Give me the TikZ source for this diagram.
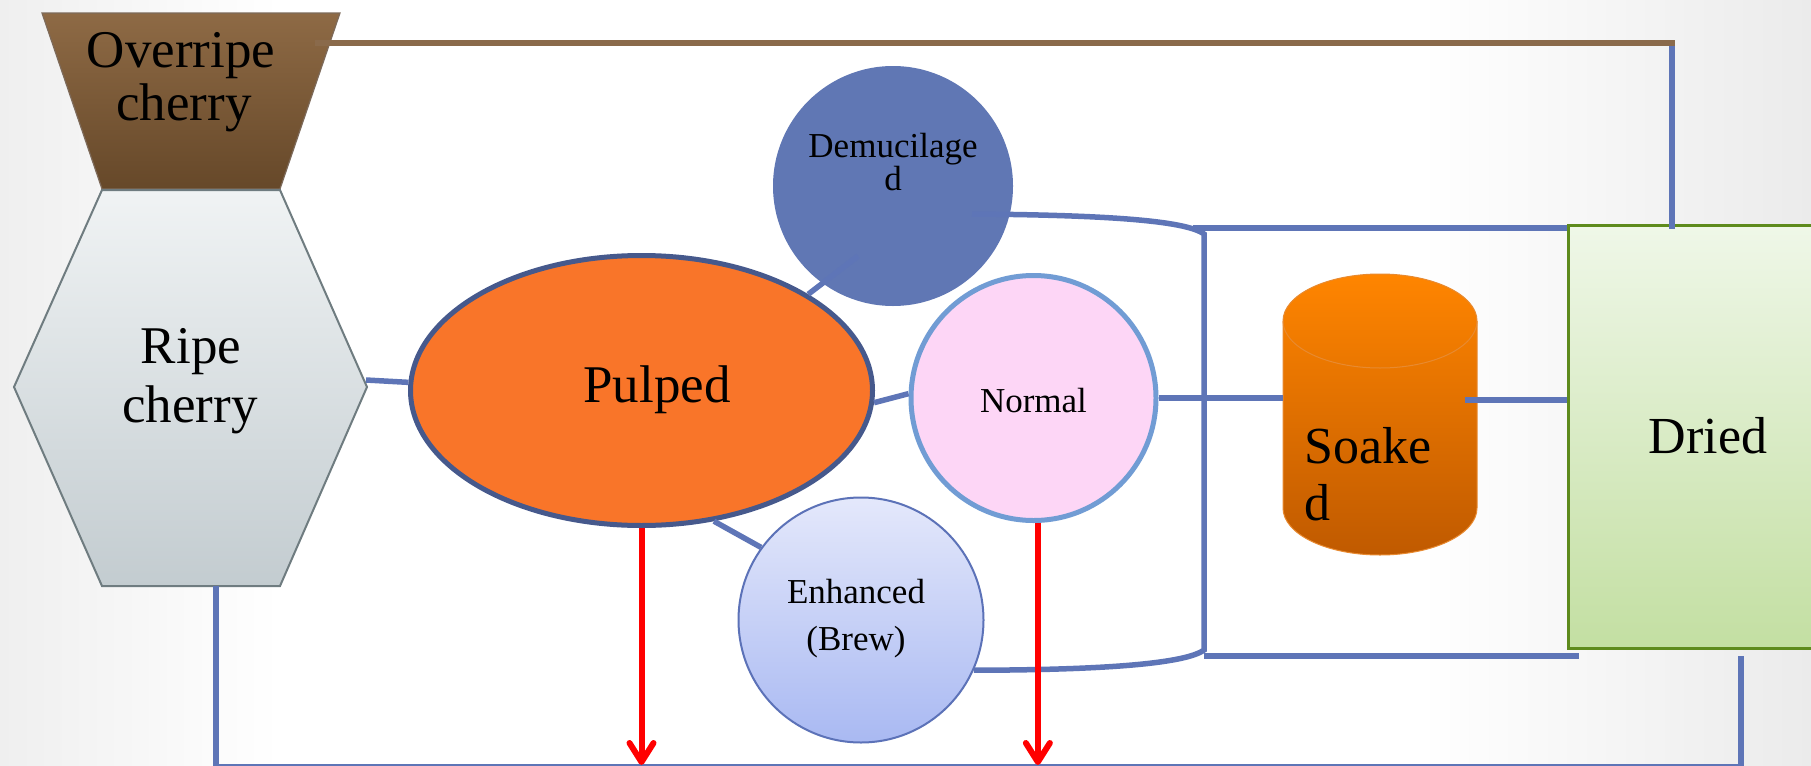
\documentclass[tikz,border=0pt]{standalone}
\usepackage{fontspec}
\setmainfont{Liberation Serif}
\usetikzlibrary{arrows.meta,calc,shapes.geometric}
\definecolor{cBlue}{HTML}{5E75B7}
\definecolor{cBrown}{HTML}{8A6A4B}
\definecolor{brTop}{HTML}{8E6A45}
\definecolor{brBot}{HTML}{664829}
\definecolor{brEdge}{HTML}{7D6A5A}
\definecolor{hxTop}{HTML}{F0F3F4}
\definecolor{hxBot}{HTML}{C3CCD0}
\definecolor{hxEdge}{HTML}{6F7C80}
\definecolor{pulpFill}{HTML}{F97529}
\definecolor{pulpEdge}{HTML}{46598C}
\definecolor{demFill}{HTML}{6077B4}
\definecolor{normFill}{HTML}{FDD6F6}
\definecolor{normEdge}{HTML}{719CD4}
\definecolor{enhTop}{HTML}{E4E8FB}
\definecolor{enhBot}{HTML}{A9B9F2}
\definecolor{enhEdge}{HTML}{5C72B8}
\definecolor{cylTop}{HTML}{FF8500}
\definecolor{cylBot}{HTML}{C05A00}
\definecolor{cylLine}{HTML}{E88A30}
\definecolor{gTop}{HTML}{EFF7E8}
\definecolor{gBot}{HTML}{C3DFA2}
\definecolor{gEdge}{HTML}{5E8B1D}
\definecolor{bgL}{HTML}{EFEFEF}
\definecolor{bgR}{HTML}{EBEBEB}
\begin{document}
\begin{tikzpicture}[x=0.5pt,y=-0.5pt,
  conn/.style={draw=cBlue, line width=2.75pt},
  brownln/.style={draw=cBrown, line width=3pt},
  redarr/.style={draw=red, line width=3pt, -{Straight Barb[length=9.5pt,width=12pt,round]}},
  bigtxt/.style={inner sep=0, anchor=base, font=\fontsize{26.5}{30}\selectfont},
  smalltxt/.style={inner sep=0, anchor=base, font=\fontsize{17.5}{21}\selectfont},
  timestxt/.style={inner sep=0, anchor=base, font=\fontsize{26}{30}\selectfont}]
\useasboundingbox (0,0) rectangle (1811,766);
\begin{scope}
\clip (0,0) rectangle (1811,766);
% background
\fill[white] (0,0) rectangle (1811,766);
\shade[left color=bgL, right color=white] (0,0) rectangle (280,766);
\shade[left color=white, right color=bgR] (1420,0) rectangle (1811,766);

% shapes
\shade[top color=brTop, bottom color=brBot, draw=brEdge, line width=0.6pt]
  (42,13) -- (340,13) -- (280,189) -- (102,189) -- cycle;
\shade[top color=hxTop, bottom color=hxBot, draw=hxEdge, line width=1pt]
  (102,190) -- (280,190) -- (367,387) -- (280,586) -- (102,586) -- (14,387) -- cycle;
\node[ellipse, draw=pulpEdge, line width=2.5pt, fill=pulpFill, minimum width=231pt, minimum height=135pt, inner sep=0] (pulp) at (641.5,390.5) {};
\node[circle, fill=demFill, minimum size=120pt, inner sep=0] (dem) at (893,186) {};
\node[circle, draw=normEdge, line width=2.5pt, fill=normFill, minimum size=122.5pt, inner sep=0] (norm) at (1033.5,398) {};
\node[circle, draw=enhEdge, line width=1pt, top color=enhTop, bottom color=enhBot, minimum size=122.5pt, inner sep=0] (enh) at (861,620) {};
\shade[top color=cylTop, bottom color=cylBot, draw=cylLine, line width=0.5pt]
  (1283,321) -- (1283,508) arc[start angle=180, end angle=0, x radius=97, y radius=47]
  -- (1477,321) arc[start angle=0, end angle=-180, x radius=97, y radius=47] -- cycle;
\draw[cylLine, line width=0.5pt] (1283,321) arc[start angle=180, end angle=0, x radius=97, y radius=47];
\node[rectangle, draw=gEdge, line width=1.5pt, top color=gTop, bottom color=gBot, minimum width=131pt, minimum height=211.5pt, inner sep=0] (dried) at (1699,437) {};

% coordinates
\coordinate (overE) at (315,43);
\coordinate (brownEnd) at (1675,43);
\coordinate (vTop) at (1672,43);
\coordinate (vBot) at (1672,229);
\coordinate (ripeE) at (366,380);
\coordinate (ripeB) at (216,586);
\coordinate (botL) at (216,767);
\coordinate (botR) at (1741,767);
\coordinate (driedB) at (1741,656);
\coordinate (soakL) at (1283,398);
\coordinate (soakR) at (1465,400);
\coordinate (demR) at ($(dem.center)+(79,28)$);
\coordinate (brT) at (1204,234);
\coordinate (brB) at (1204,650);
\coordinate (topL) at (1193,228);
\coordinate (botS) at (1204,656);
\coordinate (botE) at (1579,656);
\coordinate (arrEnd) at (0,765);

% connectors
\draw[conn] (vTop) -- (vBot);
\draw[brownln] (overE) -- (brownEnd);
\draw[conn] (ripeE) -- (pulp.178);
\draw[conn] (pulp.-3) -- (norm.178);
\draw[conn] (pulp.30) -- ($(dem.center)+(-35,70)$);
\draw[conn] (pulp.-61) -- (enh.144);
\draw[conn] (norm.east) -- (soakL);
\draw[conn] (soakR) -- (soakR -| dried.west);
\draw[conn] (demR) .. controls (1100,215) and (1185,220) .. (brT) -- (brB)
  .. controls (1185,664) and (1100,670) .. (enh.-24);
\draw[conn] (topL) -- (topL -| dried.west);
\draw[conn] (botS) -- (botE);
\draw[conn, line join=miter] (ripeB) -- (botL) -- (botR) -- (driedB);
\draw[redarr] (pulp.south) -- (pulp.south |- arrEnd);
\draw[redarr] (norm.-88) -- (norm.-88 |- arrEnd);

% texts
\node[bigtxt] (over1) at (181,67) {Overripe};
\node[bigtxt] (over2) at (184,120) {cherry};
\node[bigtxt] (ripe1) at (191,363) {Ripe};
\node[bigtxt] (ripe2) at (190,422) {cherry};
\node[bigtxt] (pulpT) at (657,402) {Pulped};
\node[smalltxt] (dem1) at (893,157) {Demucilage};
\node[smalltxt] (dem2) at (893,190) {d};
\node[smalltxt] (normT) at (1033.5,412) {Normal};
\node[smalltxt] (enh1) at (856,603) {Enhanced};
\node[smalltxt] (enh2) at (856,650) {(Brew)};
\node[timestxt, anchor=base west] (soak1) at (1304,463) {Soake};
\node[timestxt, anchor=base west] (soak2) at (1304,520) {d};
\node[timestxt] (driedT) at (1708,453) {Dried};
\end{scope}
\end{tikzpicture}
\end{document}
